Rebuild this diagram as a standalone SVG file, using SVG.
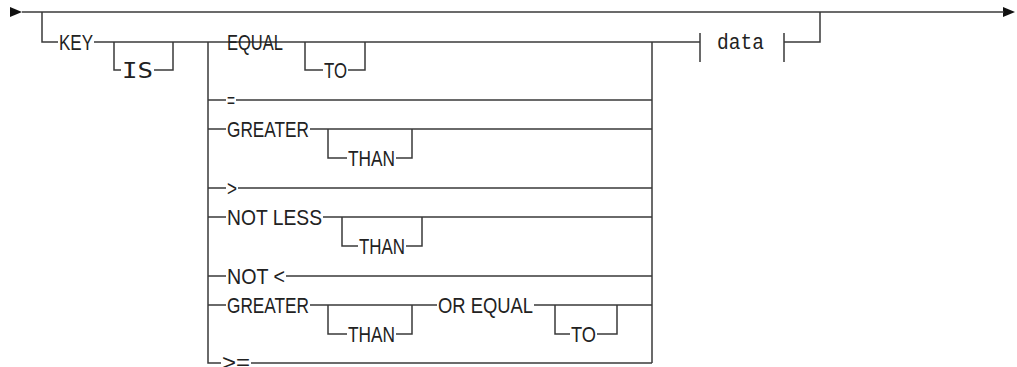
<svg xmlns="http://www.w3.org/2000/svg" width="1017" height="367" viewBox="0 0 1017 367">
<style>
.c{fill:none;stroke:#3a3a3a;stroke-width:1.5}
.t{font-family:"Liberation Sans Narrow","Liberation Sans",Arial,sans-serif;font-size:22px;fill:#222}
.m{font-family:"Liberation Mono","DejaVu Sans Mono",monospace;font-size:22px;fill:#222}
.s{font-family:"DejaVu Sans Mono","Liberation Mono",monospace;font-size:21px;fill:#222}
.a{fill:#111}
</style>
<rect width="1017" height="367" fill="#fff"/>
<g id="connectors">
<polygon class="a" points="10,7 22,12 10,17"/>
<polygon class="a" points="1003,7 1015,12 1003,17"/>
<path class="c" d="M22,12H1004"/>
<path class="c" d="M42,12V42H58"/>
<path class="c" d="M94,42H700"/>
<path class="c" d="M114,42V70H121M154,70H173V42"/>
<path class="c" d="M208,42V363H221"/>
<path class="c" d="M305,42V70H323M348,70H365V42"/>
<path class="c" d="M652,42V363"/>
<path class="c" d="M208,100H226M236,100H652"/>
<path class="c" d="M208,129H226M310,129H652"/>
<path class="c" d="M328,129V158H347M396,158H412V129"/>
<path class="c" d="M208,188H226M238,188H652"/>
<path class="c" d="M208,217H226M323,217H652"/>
<path class="c" d="M342,217V246H358M406,246H422V217"/>
<path class="c" d="M208,276H226M286,276H652"/>
<path class="c" d="M208,305H226M310,305H437M534,305H652"/>
<path class="c" d="M328,305V334H347M396,334H412V305"/>
<path class="c" d="M555,305V334H570M597,334H617V305"/>
<path class="c" d="M251,363H652"/>
<path class="c" d="M784,42H820V12"/>
</g>
<g id="KEY"><text class="t" x="59" y="50" textLength="34" lengthAdjust="spacingAndGlyphs">KEY</text></g>
<g id="IS"><text class="s" x="122" y="78" textLength="31" lengthAdjust="spacingAndGlyphs">IS</text></g>
<g id="EQUAL"><text class="t" x="227" y="50" textLength="56" lengthAdjust="spacingAndGlyphs">EQUAL</text></g>
<g id="TO1"><text class="t" x="324" y="78" textLength="23" lengthAdjust="spacingAndGlyphs">TO</text></g>
<g id="EQ"><text class="t" x="227" y="108" textLength="8" lengthAdjust="spacingAndGlyphs">=</text></g>
<g id="GREATER1"><text class="t" x="227" y="137" textLength="82" lengthAdjust="spacingAndGlyphs">GREATER</text></g>
<g id="THAN1"><text class="t" x="348" y="166" textLength="47" lengthAdjust="spacingAndGlyphs">THAN</text></g>
<g id="GT"><text class="t" x="227" y="196" textLength="10" lengthAdjust="spacingAndGlyphs">&gt;</text></g>
<g id="NOTLESS"><text class="t" x="227" y="225" textLength="95" lengthAdjust="spacingAndGlyphs">NOT LESS</text></g>
<g id="THAN2"><text class="t" x="359" y="254" textLength="46" lengthAdjust="spacingAndGlyphs">THAN</text></g>
<g id="NOTLT"><text class="t" x="227" y="284" textLength="58" lengthAdjust="spacingAndGlyphs">NOT &lt;</text></g>
<g id="GREATER2"><text class="t" x="227" y="313" textLength="82" lengthAdjust="spacingAndGlyphs">GREATER</text></g>
<g id="THAN3"><text class="t" x="348" y="342" textLength="47" lengthAdjust="spacingAndGlyphs">THAN</text></g>
<g id="OREQUAL"><text class="t" x="438" y="313" textLength="95" lengthAdjust="spacingAndGlyphs">OR EQUAL</text></g>
<g id="TO2"><text class="t" x="571" y="342" textLength="25" lengthAdjust="spacingAndGlyphs">TO</text></g>
<g id="GE"><text class="t" x="222" y="370" textLength="28" lengthAdjust="spacingAndGlyphs">&gt;=</text></g>
<g id="data">
<path class="c" d="M700,33V62M784,33V62"/>
<text class="m" x="717" y="49" textLength="47" lengthAdjust="spacingAndGlyphs">data</text>
</g>
</svg>
